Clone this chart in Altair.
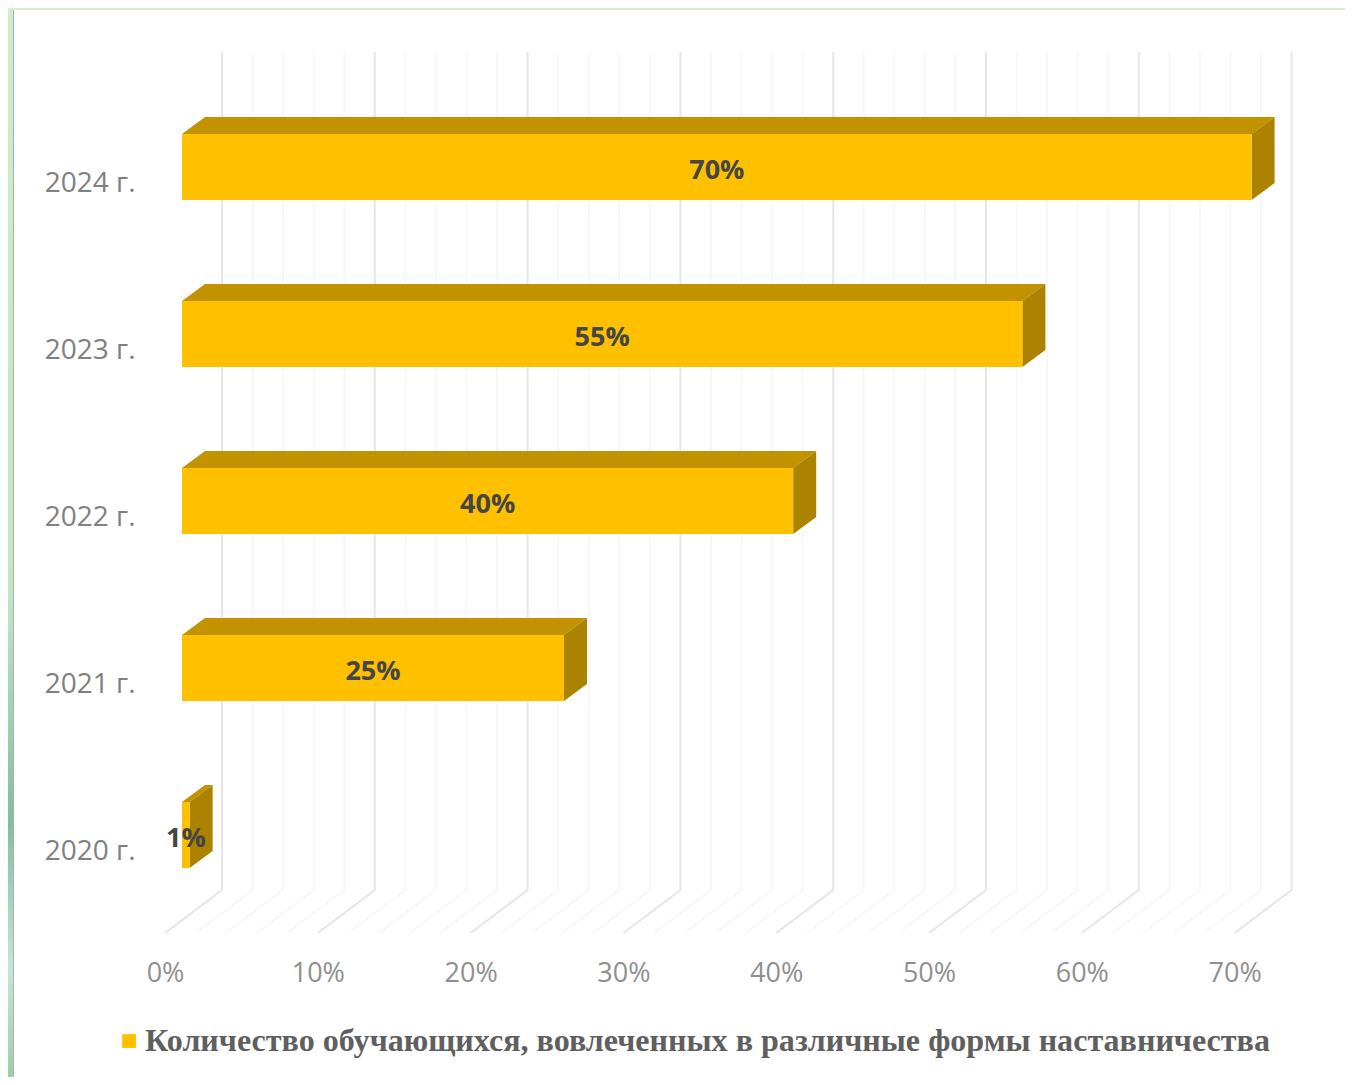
import altair as alt
import pandas as pd

rows = [0, 1, 2, 3, 4]
years = ["2020 г.", "2021 г.", "2022 г.", "2023 г.", "2024 г."]
bar_values = [0.5, 25, 40, 55, 70]
bar_labels = ["1%", "25%", "40%", "55%", "70%"]
x_ticks = [0, 10, 20, 30, 40, 50, 60, 70]
minor_ticks = [t for t in range(0, 71, 2) if t % 10]
series = "Количество обучающихся,  вовлеченных в различные формы наставничества"

PX = 15.28       # pixels per percent
PY = 167.0       # pixels per row
BASE = 17 / PX   # front-of-bar offset from floor front edge
DX, DY = 23 / PX, 17 / PY            # bar depth
WX = 57 / PX                         # wall depth
W, H = 1180, 942
PAD = {"left": 157, "top": 0, "right": 0, "bottom": 127}
XDOM = [0, W / PX]
YDOM = [(850 - 950) / PY, (850 - 8) / PY]
TOP, BOT = 48 / PY, -18 / PY
FLOOR_F, FLOOR_B, WALL_T = (850 - 933) / PY, (850 - 890) / PY, (850 - 52) / PY

x = alt.X("x:Q", scale=alt.Scale(domain=XDOM, nice=False, zero=False),
          axis=alt.Axis(values=x_ticks, labelExpr="datum.value + '%'", title=None, grid=False,
                        domain=False, ticks=False, labelFont="Open Sans", labelFontSize=27,
                        labelColor="#8f8f8f", labelPadding=10, labelFlush=False, labelOverlap=False))
y = alt.Y("y:Q", scale=alt.Scale(domain=YDOM, nice=False, zero=False),
          axis=alt.Axis(values=rows, labelExpr="['2020 г.','2021 г.','2022 г.','2023 г.','2024 г.'][datum.value]",
                        title=None, grid=False, domain=False, ticks=False, labelFont="Open Sans",
                        labelFontSize=28, labelColor="#808080", labelPadding=30, labelOffset=1))


def grid_frame(ticks):
    out = []
    for t in ticks:
        out += [{"t": t, "s": 0, "x": t, "y": FLOOR_F},
                {"t": t, "s": 1, "x": t + WX, "y": FLOOR_B},
                {"t": t, "s": 2, "x": t + WX, "y": WALL_T}]
    return pd.DataFrame(out)


def grid_layer(ticks, color, width):
    return alt.Chart(grid_frame(ticks)).mark_line(color=color, strokeWidth=width).encode(
        x=x, y=y, detail="t:N", order="s:Q")


front, top, side, labels = [], [], [], []
for r, v, lab in zip(rows, bar_values, bar_labels):
    x0, x1 = BASE, BASE + v
    yt, yb = r + TOP, r + BOT
    front.append({"x": x0, "x2": x1, "y": yb, "y2": yt, "s": series})
    top += [{"r": r, "y": yt, "x": x0, "x2": x1},
            {"r": r, "y": yt + DY, "x": x0 + DX, "x2": x1 + DX}]
    side += [{"r": r, "x": x1, "y": yb, "y2": yt},
             {"r": r, "x": x1 + DX, "y": yb + DY, "y2": yt + DY}]
    labels.append({"x": (x0 + x1) / 2, "y": r + 11 / PY, "t": lab})

top_l = alt.Chart(pd.DataFrame(top)).mark_area(orient="horizontal", color="#c29200").encode(
    x=x, x2="x2:Q", y=y, detail="r:N")
side_l = alt.Chart(pd.DataFrame(side)).mark_area(orient="vertical", color="#ab8300").encode(
    x=x, y=y, y2="y2:Q", detail="r:N")
front_l = alt.Chart(pd.DataFrame(front)).mark_rect().encode(
    x=x, x2="x2:Q", y=y, y2="y2:Q",
    color=alt.Color("s:N", scale=alt.Scale(domain=[series], range=["#ffc000"]),
                    legend=alt.Legend(orient="none", legendX=-52, legendY=1017, title=None,
                                      symbolType="square", symbolSize=190, labelLimit=1300,
                                      labelFont="Liberation Serif", labelFontWeight="bold",
                                      labelFontSize=32.1, labelColor="#5f5f5f", labelOffset=0)))
text_l = alt.Chart(pd.DataFrame(labels)).mark_text(
    font="Open Sans", fontWeight="bold", fontSize=27, color="#454545").encode(x=x, y=y, text="t:N")

one = pd.DataFrame({"a": [0]})
band_fill = alt.Gradient(gradient="linear", x1=0, x2=0, y1=0, y2=1, stops=[
    alt.GradientStop(color="#cdeecb", offset=0),
    alt.GradientStop(color="#c0e6c4", offset=0.55),
    alt.GradientStop(color="#7fc0a0", offset=0.76),
    alt.GradientStop(color="#c4e6d4", offset=0.9),
    alt.GradientStop(color="#9ccfa4", offset=1)])
left_band = alt.Chart(one).mark_rect(fill=band_fill).encode(
    x=alt.value(-157), x2=alt.value(-152), y=alt.value(0), y2=alt.value(1069))
left_edge = alt.Chart(one).mark_rect(fill="#b0b0b0").encode(
    x=alt.value(-152), x2=alt.value(-151), y=alt.value(2), y2=alt.value(1069))
top_band = alt.Chart(one).mark_rect(fill="#d4f0c8").encode(
    x=alt.value(-157), x2=alt.value(1180), y=alt.value(0), y2=alt.value(2))

chart = alt.layer(
    left_band, left_edge, top_band,
    grid_layer(minor_ticks, "#f6f6f6", 1.5),
    grid_layer(x_ticks, "#e6e6e6", 2),
    top_l, side_l, front_l, text_l,
).properties(
    width=W, height=H, padding=PAD, background="white",
    autosize=alt.AutoSizeParams(type="none"),
).configure_view(stroke=None)

chart.save("out.html", embed_options={"renderer": "svg", "actions": False})
